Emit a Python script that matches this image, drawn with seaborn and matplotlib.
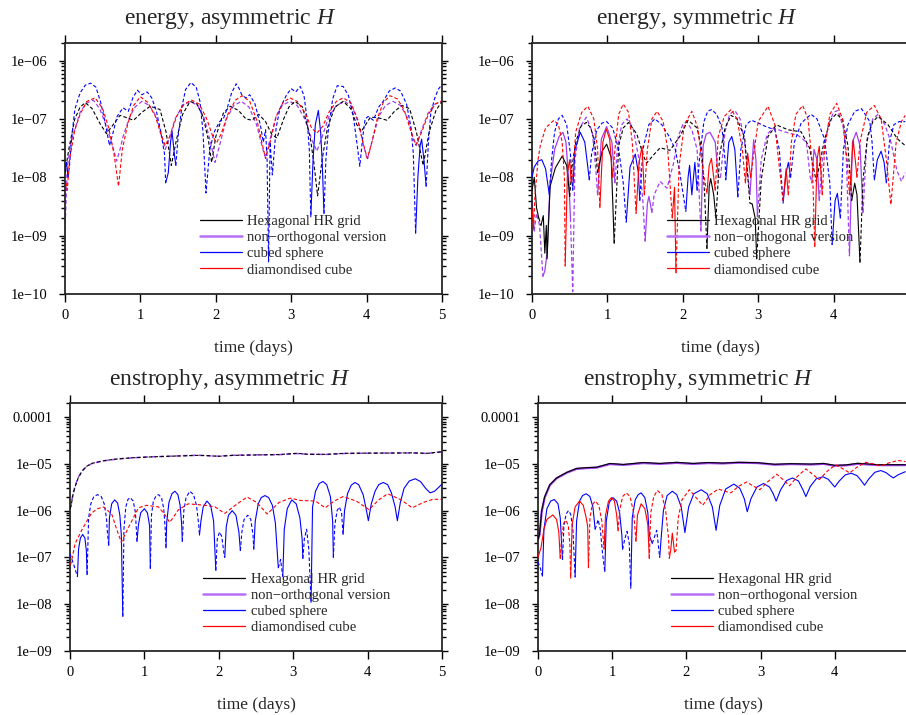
"""Energy and enstrophy error curves, four log panels, drawn with seaborn"""

import matplotlib
matplotlib.use("Agg")
import matplotlib.pyplot as plt
from matplotlib.lines import Line2D
from matplotlib.ticker import FixedLocator, FixedFormatter, LogLocator, NullFormatter
import numpy as np
import seaborn as sns

# values as (time in days, value);
# a negative value means the curve is drawn dashed, |value| is plotted

# energy, asymmetric H
EA_BLACK = [(0.0, -1.2e-8), (0.05, -3e-8), (0.13, -1e-7), (0.2, -1.6e-7), (0.27, -1.9e-7), (0.36, -1.5e-7),
            (0.46, -8.5e-8), (0.55, -5.6e-8), (0.64, -8e-8), (0.73, -1.15e-7), (0.82, -1.05e-7), (0.91, -9.5e-8),
            (1.02, -1.3e-7), (1.13, -1.65e-7), (1.26, -1.45e-7), (1.34, -6e-8), (1.41, -1.6e-8), (1.48, -4.5e-8),
            (1.56, -1.2e-7), (1.66, -2e-7), (1.75, -1.8e-7), (1.83, -1.1e-7), (1.9, -4.5e-8), (1.945, -1.8e-8),
            (2.0, -5e-8), (2.1, -1.25e-7), (2.19, -1.65e-7), (2.3, -1.4e-7), (2.4, -1e-7), (2.48, -9.5e-8),
            (2.57, -1.2e-7), (2.66, -9e-8), (2.74, -5.5e-8), (2.81, -4.7e-8), (2.9, -1e-7), (2.97, -1.6e-7),
            (3.05, -2e-7), (3.15, -1.6e-7), (3.25, -5e-8), (3.3, -1.8e-8), (3.35, -4.8e-9), (3.41, -2e-8),
            (3.48, -7e-8), (3.58, -1.6e-7), (3.69, -2e-7), (3.79, -1.5e-7), (3.87, -8e-8), (3.93, -6.1e-8),
            (4.05, -1.07e-7), (4.15, -1.05e-7), (4.27, -9.5e-8), (4.37, -1.35e-7), (4.47, -1.7e-7), (4.57, -1.5e-7),
            (4.66, -6e-8), (4.75, -1.6e-8), (4.83, -6e-8), (4.92, -1.4e-7), (5.0, -2e-7)]
EA_PURPLE = [(0.0, -1.25e-9), (0.03, -1.5e-8), (0.08, -4e-8), (0.13, -6.6e-8), (0.2, -1.3e-7), (0.28, -1.85e-7),
             (0.375, -2.1e-7), (0.46, -1.5e-7), (0.55, -7.4e-8), (0.63, -3.5e-8), (0.685, -1.9e-8), (0.73, -3e-8),
             (0.77, -5e-8), (0.86, -1.1e-7), (0.93, -1.6e-7), (1.02, -2e-7), (1.12, -1.7e-7), (1.21, -1.1e-7),
             (1.28, -5.5e-8), (1.33, -3e-8), (1.38, -4.5e-8), (1.46, -1e-7), (1.56, -1.7e-7), (1.66, -2e-7),
             (1.76, -1.7e-7), (1.85, -1e-7), (1.93, -4e-8), (1.99, -1.8e-8), (2.05, -3.5e-8), (2.14, -1e-7),
             (2.24, -1.7e-7), (2.34, -2e-7), (2.44, -1.6e-7), (2.54, -8e-8), (2.6, -4e-8), (2.65, -2.3e-8),
             (2.71, -4e-8), (2.8, -1.1e-7), (2.88, -1.7e-7), (2.98, -2e-7), (3.08, -1.7e-7), (3.18, -1e-7),
             (3.27, -4.5e-8), (3.34, -2.8e-8), (3.4, -4.5e-8), (3.5, -1.1e-7), (3.6, -1.7e-7), (3.71, -2e-7),
             (3.81, -1.6e-7), (3.9, -8e-8), (3.96, -3.5e-8), (4.01, -2e-8), (4.07, -4e-8), (4.16, -1.1e-7),
             (4.25, -1.7e-7), (4.35, -2e-7), (4.45, -1.7e-7), (4.55, -1e-7), (4.61, -5e-8), (4.66, -3.5e-8),
             (4.72, -6e-8), (4.82, -1.3e-7), (4.91, -1.8e-7), (5.0, -2e-7)]
EA_BLUE = [(0.0, 1.4e-8), (0.02, 1.8e-8), (0.04, 1e-8), (0.06, -1.6e-8), (0.09, -5e-8), (0.13, -1.45e-7),
           (0.2, -2.8e-7), (0.27, -3.8e-7), (0.34, -4.1e-7), (0.41, -3.5e-7), (0.47, -2e-7), (0.53, -9e-8),
           (0.59, -3.5e-8), (0.64, -6e-8), (0.69, -1.1e-7), (0.77, -1.55e-7), (0.84, -1.35e-7), (0.9, -2.3e-7),
           (0.96, -3.1e-7), (1.02, -2.6e-7), (1.09, -2.9e-7), (1.15, -2.3e-7), (1.21, -1.4e-7), (1.27, -6e-8),
           (1.32, -2.5e-8), (1.335, 8e-9), (1.37, 1.2e-8), (1.4, 4e-8), (1.42, 6.1e-8), (1.45, 2.5e-8),
           (1.47, -1.6e-8), (1.5, -5e-8), (1.55, -1.6e-7), (1.6, -3.2e-7), (1.67, -4.2e-7), (1.74, -3.5e-7),
           (1.79, -2e-7), (1.83, -6e-8), (1.87, -5.4e-9), (1.92, -3e-8), (1.98, -6e-8), (2.05, -9e-8),
           (2.1, -1e-7), (2.15, -1.5e-7), (2.21, -2.8e-7), (2.27, -4e-7), (2.31, -3.3e-7), (2.35, -2.5e-7),
           (2.4, -2.3e-7), (2.45, -2.6e-7), (2.52, -1.8e-7), (2.59, -8e-8), (2.63, -4e-8), (2.66, -6.5e-8),
           (2.68, -2e-8), (2.7, -3.5e-10), (2.72, -4e-8), (2.75, -1.1e-8), (2.8, -7e-8), (2.85, -1.5e-7),
           (2.94, -2.6e-7), (3.0, -3.3e-7), (3.06, -2.9e-7), (3.12, -3.6e-7), (3.17, -2.5e-7), (3.21, -1e-7),
           (3.24, -3e-8), (3.26, 2.1e-9), (3.29, 2e-8), (3.32, 8e-8), (3.36, 1.4e-7), (3.39, 6e-8),
           (3.41, 2e-8), (3.435, -2.4e-9), (3.46, -2e-8), (3.49, -6e-8), (3.55, -2.2e-7), (3.61, -3.7e-7),
           (3.69, -3.6e-7), (3.76, -2.5e-7), (3.82, -1.2e-7), (3.87, -4e-8), (3.91, -1.55e-8), (3.95, -5e-8),
           (3.98, -1e-7), (4.02, -1.1e-7), (4.09, -9.5e-8), (4.16, -1.6e-7), (4.22, -2e-7), (4.3, -3e-7),
           (4.38, -3.4e-7), (4.45, -3e-7), (4.53, -1.8e-7), (4.59, -7e-8), (4.62, -2.5e-8), (4.65, -1.1e-9),
           (4.68, 1e-8), (4.71, 3.5e-8), (4.73, 4.5e-8), (4.76, 2e-8), (4.79, -7e-9), (4.82, -4e-8),
           (4.85, -1.2e-7), (4.9, -2.2e-7), (4.95, -3.2e-7), (5.0, -3.9e-7)]
EA_RED = [(0.0, -1e-8), (0.03, -6e-9), (0.06, -2e-8), (0.13, -6.5e-8), (0.2, -1.2e-7), (0.29, -2e-7),
          (0.4, -2.3e-7), (0.5, -1.5e-7), (0.58, -7e-8), (0.65, -2.5e-8), (0.71, -7e-9), (0.76, -3e-8),
          (0.83, -8e-8), (0.91, -1.7e-7), (1.0, -2.4e-7), (1.1, -1.9e-7), (1.2, -1.1e-7), (1.28, -5e-8),
          (1.33, -3.5e-8), (1.39, -5e-8), (1.48, -1.1e-7), (1.58, -1.8e-7), (1.68, -2.1e-7), (1.78, -1.8e-7),
          (1.88, -1e-7), (1.96, -5e-8), (2.01, -3.9e-8), (2.07, -5.5e-8), (2.16, -1.2e-7), (2.26, -2.1e-7),
          (2.35, -2.5e-7), (2.45, -2e-7), (2.55, -9e-8), (2.61, -4e-8), (2.66, -2.1e-8), (2.72, -4e-8),
          (2.8, -1.1e-7), (2.89, -1.9e-7), (2.98, -2.3e-7), (3.08, -2e-7), (3.18, -1.3e-7), (3.27, -7e-8),
          (3.34, -5.7e-8), (3.42, -7.5e-8), (3.5, -1.3e-7), (3.6, -2e-7), (3.69, -2.3e-7), (3.79, -1.9e-7),
          (3.88, -1e-7), (3.95, -4e-8), (4.01, -2.1e-8), (4.07, -4e-8), (4.14, -1e-7), (4.22, -1.9e-7),
          (4.31, -2.5e-7), (4.41, -2.2e-7), (4.5, -1.4e-7), (4.59, -6e-8), (4.65, -3.6e-8), (4.72, -5.5e-8),
          (4.82, -1.2e-7), (4.91, -1.8e-7), (5.0, -2.05e-7)]

# energy, symmetric H
ES_BLACK = [(0.0, 6e-9), (0.03, 1e-8), (0.06, 3e-9), (0.09, -2e-9), (0.12, -1.5e-9), (0.15, 2.2e-9),
            (0.17, 5e-10), (0.19, 1.5e-9), (0.2, 4e-10), (0.24, 7e-9), (0.31, 1.45e-8), (0.4, 2.3e-8),
            (0.46, 1.6e-8), (0.5, 4.7e-9), (0.53, -1.5e-8), (0.58, -4e-8), (0.65, -7.5e-8), (0.72, -8.7e-8),
            (0.78, -7e-8), (0.83, -4e-8), (0.87, -1.2e-8), (0.93, 2.8e-8), (0.99, 3.7e-8), (1.05, 2.2e-8),
            (1.09, 7.4e-10), (1.15, -3.5e-8), (1.21, -7e-8), (1.28, -8.7e-8), (1.39, -5.5e-8), (1.48, -2.3e-8),
            (1.52, -1.75e-8), (1.61, -2.4e-8), (1.7, -3.2e-8), (1.83, -2.9e-8), (1.96, -5e-8), (2.07, -9.5e-8),
            (2.19, -7e-8), (2.25, -3e-8), (2.29, -5e-9), (2.32, 6e-10), (2.35, 7e-9), (2.37, 9.5e-9),
            (2.41, 5e-9), (2.44, -2e-9), (2.49, -2.5e-8), (2.56, -7e-8), (2.64, -1.15e-7), (2.72, -1e-7),
            (2.82, -4.8e-8), (2.89, -3.6e-9), (2.92, 3.5e-9), (2.96, 2e-9), (2.98, -4e-10), (3.04, -9e-9),
            (3.13, -5e-8), (3.24, -7.9e-8), (3.4, -6.5e-8), (3.57, -6e-8), (3.68, -3.2e-8), (3.77, -8.5e-9),
            (3.88, -4.5e-8), (3.97, -1e-7), (4.04, -1.23e-7), (4.12, -9.5e-8), (4.19, -3.5e-8), (4.24, -4e-9),
            (4.28, 7.9e-9), (4.31, 5e-9), (4.35, 3.5e-10), (4.39, -9e-9), (4.45, -5e-8), (4.52, -9e-8),
            (4.59, -1.1e-7), (4.72, -8e-8), (4.85, -4.5e-8), (4.95, -3.5e-8)]
ES_PURPLE = [(0.0, 4e-9), (0.03, 1.2e-9), (0.06, -2.4e-9), (0.1, -1.5e-9), (0.145, -2e-10), (0.17, 2.5e-10),
             (0.2, 5e-10), (0.24, 8e-9), (0.3, 3e-8), (0.36, 5e-8), (0.41, 5.9e-8), (0.45, 4e-8), (0.49, 8e-9),
             (0.51, -2e-9), (0.54, -1.1e-10), (0.57, -2e-8), (0.63, -7e-8), (0.72, -1.07e-7), (0.8, -6e-8),
             (0.85, -1.2e-8), (0.87, 5e-9), (0.92, 4.5e-8), (0.99, 7.4e-8), (1.06, 4e-8), (1.1, 8e-9),
             (1.13, -3e-8), (1.19, -8e-8), (1.26, -1e-7), (1.34, -7e-8), (1.42, -2e-8), (1.47, -4e-9),
             (1.5, 8e-10), (1.53, 3.5e-9), (1.55, 4.7e-9), (1.57, 3.5e-9), (1.59, 2.5e-9), (1.62, -5e-9),
             (1.7, -8.5e-9), (1.79, -6.5e-9), (1.88, -1.8e-8), (1.94, -5e-8), (2.0, -8e-8), (2.05, -9e-8),
             (2.12, -6.5e-8), (2.19, -3e-8), (2.24, -1.2e-9), (2.27, 3.5e-8), (2.31, 5.5e-8), (2.36, 5.9e-8),
             (2.43, 4e-8), (2.47, 1e-8), (2.5, -1e-8), (2.56, -6e-8), (2.62, -1.2e-7), (2.69, -1.4e-7),
             (2.76, -1e-7), (2.82, -4e-8), (2.87, -9e-9), (2.89, 5e-9), (2.94, 4.4e-8), (2.97, 2e-8),
             (2.99, 2.1e-9), (3.04, -2e-8), (3.12, -5.5e-8), (3.2, -7e-8), (3.35, -6e-8), (3.53, -5.2e-8),
             (3.64, -4e-8), (3.69, -1e-8), (3.71, 8e-9), (3.74, 3e-8), (3.78, 2e-8), (3.81, 4e-9),
             (3.85, -2e-8), (3.93, -8e-8), (4.0, -1.3e-7), (4.06, -1.4e-7), (4.13, -7e-8), (4.17, -2e-8),
             (4.21, 4.5e-10), (4.25, 4e-8), (4.3, 5.9e-8), (4.35, 3.5e-8), (4.39, 2.5e-9), (4.44, -4e-8),
             (4.52, -1e-7), (4.59, -1.2e-7), (4.68, -8e-8), (4.76, -4e-8), (4.84, -1.3e-8), (4.9, -8.5e-9),
             (4.95, -1.2e-8)]
ES_BLUE = [(0.0, 1e-8), (0.03, 1.5e-8), (0.08, 1.9e-8), (0.13, 2e-8), (0.18, 1.4e-8), (0.23, 5e-9),
           (0.26, -2e-8), (0.3, -6e-8), (0.35, -1e-7), (0.4, -1.15e-7), (0.46, -8e-8), (0.51, -2.5e-8),
           (0.54, -6e-9), (0.57, 3e-8), (0.64, 5.9e-8), (0.7, 4e-8), (0.74, 1.5e-8), (0.76, 9e-9),
           (0.79, -2.5e-8), (0.86, -6.5e-8), (0.93, -8.5e-8), (0.99, -9e-8), (1.07, -7e-8), (1.15, -3e-8),
           (1.21, -8e-9), (1.25, -1.7e-9), (1.3, 1.5e-8), (1.37, 2.5e-8), (1.41, 1.2e-8), (1.43, 4e-9),
           (1.47, -3e-8), (1.55, -8e-8), (1.63, -1e-7), (1.72, -8e-8), (1.82, -5e-8), (1.9, -3e-8),
           (1.96, -1.2e-8), (2.04, -2.6e-9), (2.07, 1e-8), (2.09, 1.6e-8), (2.12, 5e-9), (2.16, 1.8e-8),
           (2.19, 6e-9), (2.22, -2e-8), (2.28, -9e-8), (2.33, -1.35e-7), (2.38, -1.45e-7), (2.45, -1.2e-7),
           (2.52, -7e-8), (2.56, -2e-8), (2.57, 9e-9), (2.61, 4e-8), (2.65, 5e-8), (2.69, 3e-8),
           (2.73, 4.6e-9), (2.77, -3e-8), (2.84, -8e-8), (2.91, -9.5e-8), (3.0, -8.5e-8), (3.09, -7.5e-8),
           (3.22, -6.5e-8), (3.28, -3e-8), (3.33, -3.6e-9), (3.37, 1.2e-8), (3.4, 1.8e-8), (3.43, 1e-8),
           (3.48, -4e-8), (3.57, -8.5e-8), (3.7, -1.2e-7), (3.78, -1e-7), (3.88, -4.5e-8), (3.95, -8e-9),
           (3.98, -7e-10), (4.02, 4e-9), (4.05, 5.3e-9), (4.09, 2e-9), (4.13, -3e-8), (4.19, -8e-8),
           (4.28, -1.35e-7), (4.37, -1.5e-7), (4.48, -9e-8), (4.51, -4e-8), (4.54, -9e-9), (4.58, 2e-8),
           (4.63, 2.8e-8), (4.67, 1.8e-8), (4.7, 8e-9), (4.74, -4e-8), (4.8, -8e-8), (4.87, -9e-8),
           (4.95, -9e-8)]
ES_RED = [(0.0, 3e-9), (0.02, 1.3e-9), (0.04, -5e-9), (0.08, -2e-8), (0.11, -3.5e-8), (0.18, -7e-8),
          (0.29, -9.5e-8), (0.35, -8e-8), (0.4, -4e-8), (0.43, -1e-8), (0.44, 3e-10), (0.47, 1.2e-8),
          (0.5, 2e-8), (0.52, 8e-9), (0.54, -1e-8), (0.58, -6e-8), (0.66, -1.3e-7), (0.74, -1.65e-7),
          (0.82, -1e-7), (0.87, -3e-8), (0.9, 3e-9), (0.94, 4e-8), (0.985, 6.7e-8), (1.03, 4.5e-8),
          (1.07, 1e-8), (1.1, -3e-8), (1.15, -1.2e-7), (1.21, -1.8e-7), (1.28, -1.3e-7), (1.33, -4e-8),
          (1.38, -2.4e-9), (1.42, 1.8e-8), (1.46, 3.4e-8), (1.49, 5e-9), (1.53, -3e-8), (1.59, -1e-7),
          (1.66, -1.35e-7), (1.74, -9e-8), (1.8, -3e-8), (1.84, -5e-9), (1.86, 2e-9), (1.89, 6.7e-9),
          (1.91, 2.3e-10), (1.95, -1.5e-8), (2.02, -8e-8), (2.12, -1.35e-7), (2.2, -7e-8), (2.26, -1.5e-8),
          (2.32, 5.3e-9), (2.35, 1.6e-8), (2.38, 2.1e-8), (2.43, 6e-9), (2.47, -5e-8), (2.55, -1.1e-7),
          (2.64, -1.45e-7), (2.72, -1e-7), (2.79, -3e-8), (2.83, 8e-9), (2.86, 2.6e-8), (2.9, 1e-8),
          (2.93, -2e-8), (3.0, -9e-8), (3.13, -1.65e-7), (3.22, -8e-8), (3.28, -1.5e-8), (3.33, 4e-9),
          (3.37, 1.4e-8), (3.4, 5e-9), (3.44, -4e-8), (3.5, -1.2e-7), (3.59, -1.7e-7), (3.66, -1e-7),
          (3.72, -1.5e-8), (3.75, 6.5e-10), (3.78, 2e-8), (3.81, 3.4e-8), (3.85, 5e-9), (3.88, -3e-8),
          (3.95, -1.2e-7), (4.04, -1.85e-7), (4.12, -1e-7), (4.18, -2e-8), (4.21, 5e-9), (4.26, 4.4e-8),
          (4.31, 1e-8), (4.35, -4e-8), (4.44, -1.3e-7), (4.54, -1.7e-7), (4.63, -1e-7), (4.7, -2e-8),
          (4.76, -3.4e-9), (4.83, -4e-8), (4.9, -9e-8), (4.95, -1.15e-7)]

# enstrophy, asymmetric H
NA_BLACK = [(0.0, -1.1e-6), (0.014, -1.25e-6), (0.04, -2.2e-6), (0.07, -3.3e-6), (0.11, -5e-6), (0.16, -6.9e-6),
            (0.22, -8.8e-6), (0.29, -1.02e-5), (0.38, -1.1e-5), (0.47, -1.18e-5), (0.65, -1.28e-5),
            (0.83, -1.35e-5), (1.05, -1.4e-5), (1.28, -1.45e-5), (1.5, -1.48e-5), (1.72, -1.52e-5),
            (1.85, -1.5e-5), (1.99, -1.45e-5), (2.2, -1.52e-5), (2.5, -1.55e-5), (2.8, -1.58e-5),
            (3.05, -1.68e-5), (3.2, -1.6e-5), (3.45, -1.6e-5), (3.7, -1.68e-5), (4.0, -1.7e-5), (4.3, -1.7e-5),
            (4.6, -1.72e-5), (4.8, -1.68e-5), (5.0, -1.82e-5)]
NA_PURPLE = [(0.0, -1.15e-6), (0.014, -1.3e-6), (0.04, -2.3e-6), (0.07, -3.4e-6), (0.11, -5.1e-6), (0.16, -7e-6),
             (0.22, -8.7e-6), (0.29, -1.01e-5), (0.38, -1.1e-5), (0.47, -1.17e-5), (0.65, -1.28e-5),
             (0.83, -1.34e-5), (1.05, -1.41e-5), (1.28, -1.44e-5), (1.5, -1.49e-5), (1.72, -1.53e-5),
             (1.85, -1.49e-5), (1.99, -1.46e-5), (2.2, -1.53e-5), (2.5, -1.56e-5), (2.8, -1.57e-5),
             (3.05, -1.66e-5), (3.2, -1.61e-5), (3.45, -1.59e-5), (3.7, -1.67e-5), (4.0, -1.69e-5),
             (4.3, -1.71e-5), (4.6, -1.71e-5), (4.8, -1.67e-5), (5.0, -1.8e-5)]
NA_BLUE = [(0.0, -1.2e-7), (0.05, -7e-8), (0.1, -3.9e-8), (0.115, 1.5e-7), (0.14, 2.6e-7), (0.17, 3.1e-7),
           (0.2, 2.6e-7), (0.22, 1.4e-7), (0.23, 4.3e-8),
           (0.25, -7e-7), (0.28, -1.4e-6), (0.32, -2e-6), (0.37, -2.2e-6), (0.42, -2e-6), (0.46, -1.4e-6),
           (0.49, -7e-7), (0.5, -3.9e-7),
           (0.52, 1.8e-7), (0.53, 7e-7), (0.56, 1.4e-6), (0.6, 1.7e-6), (0.64, 1.45e-6), (0.67, 8e-7),
           (0.69, 3e-7), (0.71, -5.5e-9),
           (0.725, -4e-7), (0.75, -1.2e-6), (0.78, -1.75e-6), (0.81, -1.9e-6), (0.85, -1.6e-6), (0.88, -9e-7),
           (0.9, -2.2e-7),
           (0.92, 5e-7), (0.95, 9e-7), (1.0, 1.1e-6), (1.04, 9e-7), (1.06, 6e-7), (1.07, 4.6e-7),
           (1.08, -5.8e-8), (1.095, -8e-7), (1.12, -1.6e-6), (1.16, -2.1e-6), (1.19, -2.2e-6), (1.23, -1.9e-6),
           (1.26, -1.1e-6), (1.28, -4e-7), (1.29, -1.6e-7),
           (1.3, 5.7e-7), (1.33, 1.5e-6), (1.37, 2.3e-6), (1.41, 2.6e-6), (1.45, 2.2e-6), (1.48, 1.3e-6),
           (1.5, 5.3e-7),
           (1.51, -2.2e-7), (1.53, -1e-6), (1.56, -1.9e-6), (1.61, -2.6e-6), (1.66, -2.2e-6), (1.7, -1.3e-6),
           (1.73, -5e-7), (1.74, -3e-7),
           (1.76, 6e-7), (1.79, 1.2e-6), (1.84, 1.6e-6), (1.89, 1.3e-6), (1.93, 6e-7), (1.96, 5.3e-8),
           (1.98, -2.5e-7), (2.01, -3.5e-7), (2.04, -2.8e-7), (2.07, -1.2e-7),
           (2.08, 1e-7), (2.1, 4.5e-7), (2.13, 8e-7), (2.18, 1e-6), (2.23, 8e-7), (2.27, 3.5e-7), (2.29, 1.4e-7),
           (2.31, -3.5e-7), (2.34, -6.5e-7), (2.39, -8e-7), (2.43, -6.5e-7), (2.46, -3e-7), (2.47, -1.5e-7),
           (2.49, 6e-7), (2.53, 1.4e-6), (2.57, 1.9e-6), (2.62, 2.1e-6), (2.67, 1.9e-6), (2.72, 1.3e-6),
           (2.76, 5.5e-7), (2.8, 6e-8), (2.83, -9e-8), (2.86, 3.9e-8),
           (2.88, 4e-7), (2.92, 1.1e-6), (2.98, 1.7e-6), (3.04, 1.4e-6), (3.09, 7e-7), (3.12, 2.5e-7),
           (3.13, 9.5e-8), (3.15, -2.5e-7), (3.18, -4e-7), (3.21, -1.5e-7), (3.24, 1.1e-8),
           (3.26, 1.2e-6), (3.3, 2.6e-6), (3.35, 3.8e-6), (3.4, 4.2e-6), (3.45, 3.6e-6), (3.5, 2e-6),
           (3.53, 6e-7), (3.54, 1e-7),
           (3.56, -5e-7), (3.59, -1e-6), (3.62, -1.2e-6), (3.65, -9e-7), (3.67, -3.1e-7),
           (3.69, 1e-6), (3.73, 2.3e-6), (3.78, 3.5e-6), (3.83, 4e-6), (3.88, 3.6e-6), (3.94, 2.2e-6),
           (3.98, 1.1e-6), (4.01, 6.1e-7), (4.05, 1.4e-6), (4.1, 2.6e-6), (4.15, 3.6e-6), (4.21, 4e-6),
           (4.27, 3.6e-6), (4.32, 2.4e-6), (4.37, 1.2e-6), (4.4, 6.1e-7), (4.44, 1.5e-6), (4.49, 3e-6),
           (4.56, 4.3e-6), (4.64, 4.8e-6), (4.71, 4.2e-6), (4.78, 3e-6), (4.84, 2.4e-6), (4.9, 2.6e-6),
           (4.96, 3.2e-6), (5.0, 3.7e-6)]
NA_RED = [(0.0, -7e-8), (0.014, -7.6e-8), (0.07, -2e-7), (0.16, -3.9e-7), (0.29, -8.9e-7), (0.37, -1.1e-6),
          (0.45, -1.2e-6), (0.56, -8.5e-7), (0.63, -3.9e-7), (0.69, -2.1e-7), (0.78, -4.2e-7), (0.92, -1.15e-6),
          (1.03, -1.3e-6), (1.19, -1.2e-6), (1.28, -8e-7), (1.34, -5.6e-7), (1.46, -1.05e-6), (1.59, -1.4e-6),
          (1.82, -1.3e-6), (1.95, -1.2e-6), (2.08, -8.7e-7), (2.22, -1.3e-6), (2.38, -1.95e-6), (2.51, -1.5e-6),
          (2.65, -8.5e-7), (2.81, -1.5e-6), (2.96, -1.85e-6), (3.1, -1.65e-6), (3.3, -1.6e-6), (3.43, -1.15e-6),
          (3.55, -1.6e-6), (3.67, -2e-6), (3.85, -1.6e-6), (4.02, -1.05e-6), (4.15, -1.7e-6), (4.27, -2.3e-6),
          (4.45, -1.7e-6), (4.6, -1.15e-6), (4.75, -1.5e-6), (4.88, -1.75e-6), (5.0, -1.75e-6)]

# enstrophy, symmetric H
NS_BLACK = [(0.0, 2.5e-7), (0.02, 3.1e-7), (0.05, 1e-6), (0.09, 2e-6), (0.16, 3.6e-6), (0.25, 5e-6),
            (0.39, 6.6e-6), (0.52, 8e-6), (0.65, 8.3e-6), (0.79, 8.5e-6), (0.97, 1.02e-5), (1.15, 9.7e-6),
            (1.42, 1.07e-5), (1.64, 1.02e-5), (1.87, 1.08e-5), (2.09, 1.02e-5), (2.3, 1.07e-5), (2.49, 1.04e-5),
            (2.7, 1.08e-5), (2.96, 1.06e-5), (3.19, 9.8e-6), (3.41, 1.01e-5), (3.68, 9.9e-6), (3.85, 1.02e-5),
            (4.0, 9.3e-6), (4.15, 9.5e-6), (4.31, 1.03e-5), (4.58, 9.6e-6), (4.95, 9.6e-6)]
NS_PURPLE = [(0.0, 2.4e-7), (0.02, 3e-7), (0.05, 9.5e-7), (0.09, 1.9e-6), (0.16, 3.5e-6), (0.25, 4.9e-6),
             (0.39, 6.5e-6), (0.52, 7.8e-6), (0.65, 8.1e-6), (0.79, 8.3e-6), (0.97, 9.9e-6), (1.15, 9.5e-6),
             (1.42, 1.04e-5), (1.64, 1e-5), (1.87, 1.05e-5), (2.09, 1e-5), (2.3, 1.04e-5), (2.49, 1.02e-5),
             (2.7, 1.06e-5), (2.96, 1.04e-5), (3.19, 9.6e-6), (3.41, 9.9e-6), (3.68, 9.7e-6), (3.85, 1e-5),
             (4.0, 9.1e-6), (4.15, 9.3e-6), (4.31, 1e-5), (4.58, 9.4e-6), (4.95, 9.4e-6)]
NS_BLUE = [(0.0, -8e-8), (0.03, -6e-8), (0.06, 4e-8), (0.08, 4e-7), (0.12, 1.1e-6), (0.17, 1.6e-6),
           (0.22, 1.73e-6), (0.27, 1.4e-6), (0.3, 7e-7), (0.33, 9e-8),
           (0.35, -5e-7), (0.38, -8.5e-7), (0.41, -1e-6), (0.44, -8.5e-7), (0.47, -4e-7), (0.5, -3.8e-8),
           (0.52, 6e-7), (0.56, 1.6e-6), (0.6, 2.1e-6), (0.65, 2.3e-6), (0.7, 2e-6), (0.74, 1.2e-6),
           (0.77, 4e-7), (0.79, -5e-7), (0.81, -6.4e-7), (0.84, -4e-7), (0.87, -1.2e-7), (0.9, 5e-8),
           (0.92, 6e-7), (0.96, 1.5e-6), (1.01, 1.9e-6), (1.06, 1.6e-6), (1.1, 9e-7), (1.13, 3e-7),
           (1.14, 1.5e-7), (1.17, -2.5e-7), (1.2, -3.6e-7), (1.23, -2e-7), (1.25, -2.2e-8),
           (1.27, 7e-7), (1.31, 1.7e-6), (1.35, 2.2e-6), (1.39, 2.4e-6), (1.44, 1.9e-6), (1.48, 9e-7),
           (1.5, 3e-7), (1.54, -2e-7), (1.6, -3.8e-7), (1.64, -1e-7),
           (1.66, 2.6e-7), (1.69, 1e-6), (1.74, 2.1e-6), (1.81, 2.6e-6), (1.87, 2.2e-6), (1.93, 1.2e-6),
           (1.98, 3.4e-7), (2.03, 1.2e-6), (2.1, 2.3e-6), (2.2, 2.8e-6), (2.28, 2.3e-6), (2.35, 1.2e-6),
           (2.4, 3.8e-7), (2.45, 1.3e-6), (2.53, 2.9e-6), (2.64, 3.7e-6), (2.72, 3e-6), (2.78, 1.8e-6),
           (2.82, 9.5e-7), (2.87, 1.8e-6), (2.95, 3.2e-6), (3.04, 3.8e-6), (3.12, 3.2e-6), (3.17, 2.3e-6),
           (3.21, 1.6e-6), (3.27, 2.8e-6), (3.35, 4.4e-6), (3.43, 5e-6), (3.51, 4.3e-6), (3.57, 2.8e-6),
           (3.61, 2e-6), (3.67, 3.3e-6), (3.75, 4.8e-6), (3.84, 5.3e-6), (3.91, 4.7e-6), (3.96, 3.8e-6),
           (4.0, 3.2e-6), (4.06, 4.3e-6), (4.14, 5.8e-6), (4.22, 6.3e-6), (4.3, 5.6e-6), (4.36, 4.3e-6),
           (4.4, 3.5e-6), (4.46, 4.8e-6), (4.54, 6.6e-6), (4.62, 7.2e-6), (4.69, 6.5e-6), (4.75, 5.5e-6),
           (4.79, 5e-6), (4.85, 5.8e-6), (4.95, 6.8e-6)]
NS_RED = [(0.0, 1e-7), (0.04, 1.6e-7), (0.08, 4e-7), (0.12, 6.5e-7), (0.2, 8.1e-7), (0.25, 6.5e-7),
          (0.28, 3.5e-7), (0.3, 9.5e-8),
          (0.32, -3e-7), (0.35, -5.5e-7), (0.38, -6.3e-7), (0.41, -4.5e-7), (0.43, -1.8e-7), (0.44, -3.6e-8),
          (0.46, 5e-7), (0.5, 1.2e-6), (0.56, 1.6e-6), (0.61, 1.3e-6), (0.65, 7e-7), (0.67, 4.5e-7),
          (0.68, -6e-8), (0.7, -7e-7), (0.73, -1.3e-6), (0.77, -1.6e-6), (0.82, -1.3e-6), (0.86, -6e-7),
          (0.89, 1.5e-7), (0.91, 8e-7), (0.95, 1.6e-6), (0.99, 1.9e-6), (1.03, 1.6e-6), (1.06, 8e-7),
          (1.08, 3.7e-7), (1.1, -1e-6), (1.14, -2e-6), (1.19, -2.4e-6), (1.24, -2e-6), (1.29, -9e-7),
          (1.32, -2.2e-7), (1.34, 8e-7), (1.39, 1.4e-6), (1.44, 1.1e-6), (1.48, 5e-7),
          (1.5, -9.5e-8), (1.52, -9e-7), (1.56, -2e-6), (1.61, -2.7e-6), (1.67, -2.2e-6), (1.72, -1e-6),
          (1.76, -2.5e-7), (1.77, -9.5e-8), (1.79, 1.5e-7), (1.81, 3.3e-7), (1.84, 1.3e-7), (1.86, -1.4e-7),
          (1.89, -7e-7), (1.94, -1.7e-6), (2.04, -2.8e-6), (2.13, -1.9e-6), (2.22, -1.3e-6), (2.32, -2.2e-6),
          (2.43, -2.9e-6), (2.52, -2.6e-6), (2.6, -2.4e-6), (2.7, -3.3e-6), (2.81, -4.1e-6), (2.91, -3.3e-6),
          (2.99, -2.8e-6), (3.1, -4.2e-6), (3.22, -6e-6), (3.31, -4.5e-6), (3.39, -3.4e-6), (3.5, -5.5e-6),
          (3.61, -7.8e-6), (3.7, -6e-6), (3.79, -4.6e-6), (3.9, -7e-6), (4.01, -9.5e-6), (4.1, -8e-6),
          (4.2, -6.4e-6), (4.3, -8.5e-6), (4.41, -1.08e-5), (4.52, -1e-5), (4.62, -9e-6), (4.73, -1.05e-5),
          (4.85, -1.18e-5), (4.95, -1.12e-5)]

LEGEND_LABELS = ["Hexagonal HR grid", "non\u2212orthogonal version", "cubed sphere", "diamondised cube"]
COLORS = ["#000000", "#a040f0", "#0000ff", "#ff0000"]
LEGEND_PURPLE = "#b670f8"
TITLES = ["energy, asymmetric $H$", "energy, symmetric $H$",
          "enstrophy, asymmetric $H$", "enstrophy, symmetric $H$"]
ENERGY_TICKS = [1e-10, 1e-9, 1e-8, 1e-7, 1e-6]
ENERGY_LABELS = ["1e\u221210", "1e\u221209", "1e\u221208", "1e\u221207", "1e\u221206"]
ENSTROPHY_TICKS = [1e-9, 1e-8, 1e-7, 1e-6, 1e-5, 1e-4]
ENSTROPHY_LABELS = ["1e\u221209", "1e\u221208", "1e\u221207", "1e\u221206", "1e\u221205", "0.0001"]

W, H = 906, 715
DASH = (3.2, 2.0)


def draw_signed(ax, pts, color, lw, z):
    """Draw |value|, solid where the value is positive, dashed where negative"""
    t = np.array([p[0] for p in pts])
    v = np.array([p[1] for p in pts])
    mag = np.abs(v)
    # each segment takes the sign of its larger end, so a dip point is shared
    solid = np.where(mag[:-1] >= mag[1:], v[:-1], v[1:]) > 0
    start = 0
    n = len(solid)
    for i in range(1, n + 1):
        if i == n or solid[i] != solid[start]:
            sl = slice(start, i + 1)
            ls = "-" if solid[start] else (0, DASH)
            sns.lineplot(x=t[sl], y=mag[sl], ax=ax, color=color, linewidth=lw, linestyle=ls,
                         estimator=None, sort=False, legend=False, zorder=z)
            start = i


def make_panel(fig, box, curves, ylim, yticks, ylabels, xticks, title, title_xy, xlabel_y, purple_lw):
    left, top, right, bottom = box
    ax = fig.add_axes([left / W, 1 - bottom / H, (right - left) / W, (bottom - top) / H])
    ax.set_yscale("log")
    for k, pts in enumerate(curves):
        lw = purple_lw if k == 1 else 0.8
        z = [3, 2, 4, 5][k]
        draw_signed(ax, pts, COLORS[k], lw, z)
    ax.set_xlim(0, 5)
    ax.set_ylim(*ylim)
    ax.set_xlabel("")
    ax.set_ylabel("")
    ax.yaxis.set_major_locator(FixedLocator(yticks))
    ax.yaxis.set_major_formatter(FixedFormatter(ylabels))
    ax.yaxis.set_minor_locator(LogLocator(base=10, subs=np.arange(2, 10), numticks=30))
    ax.yaxis.set_minor_formatter(NullFormatter())
    ax.xaxis.set_major_locator(FixedLocator(xticks))
    ax.xaxis.set_major_formatter(FixedFormatter([str(x) for x in xticks]))
    ax.tick_params(axis="both", which="both", direction="out", top=True, right=True,
                   labelsize=10.5, width=1.0, colors="black")
    ax.tick_params(axis="y", which="major", length=4.5, pad=8)
    ax.tick_params(axis="y", which="minor", length=3)
    ax.tick_params(axis="x", which="major", length=5.5, pad=5)
    for sp in ax.spines.values():
        sp.set_visible(True)
        sp.set_linewidth(1.3)
    handles = [Line2D([], [], color=c, lw=0.9) for c in COLORS]
    handles[1] = Line2D([], [], color=LEGEND_PURPLE, lw=1.8)
    ax.legend(handles, LEGEND_LABELS, loc="upper left", bbox_to_anchor=(0.358, 0.315), frameon=False,
              fontsize=10.5, handlelength=2.9, handletextpad=0.35, labelspacing=0.2, borderpad=0,
              borderaxespad=0)
    fig.text(title_xy[0] / W, 1 - title_xy[1] / H, title, ha="center", va="center", fontsize=17)
    fig.text((left + right) / 2 / W, 1 - xlabel_y / H, "time (days)", ha="center", va="center",
             fontsize=12.5)
    return ax


def main() -> None:
    """Main function"""
    sns.set_style("ticks")
    plt.rcParams["font.family"] = ["Liberation Serif", "DejaVu Serif"]
    plt.rcParams["mathtext.fontset"] = "custom"
    plt.rcParams["mathtext.it"] = "Liberation Serif:italic"
    plt.rcParams["mathtext.rm"] = "Liberation Serif"
    fig = plt.figure(figsize=(W / 100, H / 100), dpi=100)

    make_panel(fig, (65, 43, 442, 294), [EA_BLACK, EA_PURPLE, EA_BLUE, EA_RED], (1e-10, 2e-6),
               ENERGY_TICKS, ENERGY_LABELS, [0, 1, 2, 3, 4, 5], TITLES[0], (230, 19), 348, 0.9)
    make_panel(fig, (532, 43, 909, 294), [ES_BLACK, ES_PURPLE, ES_BLUE, ES_RED], (1e-10, 2e-6),
               ENERGY_TICKS, ENERGY_LABELS, [0, 1, 2, 3, 4], TITLES[1], (697, 19), 348, 0.9)
    make_panel(fig, (70, 403, 442, 651), [NA_BLACK, NA_PURPLE, NA_BLUE, NA_RED], (1e-9, 2e-4),
               ENSTROPHY_TICKS, ENSTROPHY_LABELS, [0, 1, 2, 3, 4, 5], TITLES[2], (230, 379), 705, 1.1)
    make_panel(fig, (538, 403, 909, 651), [NS_BLACK, NS_PURPLE, NS_BLUE, NS_RED], (1e-9, 2e-4),
               ENSTROPHY_TICKS, ENSTROPHY_LABELS, [0, 1, 2, 3, 4], TITLES[3], (698, 379), 705, 1.6)

    fig.savefig("out.png", dpi=100)


if __name__ == "__main__":
    main()
